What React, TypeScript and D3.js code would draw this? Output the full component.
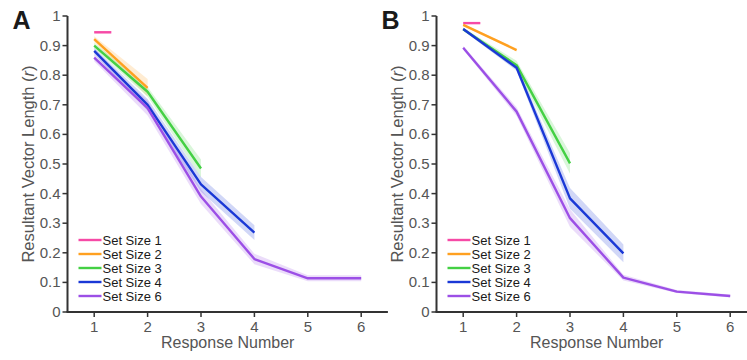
import React from "react";
import * as d3 from "d3";

const responseNumbers = [1, 2, 3, 4, 5, 6];
const yTicks = [0, 0.1, 0.2, 0.3, 0.4, 0.5, 0.6, 0.7, 0.8, 0.9, 1];
const setSizeLabels = ["Set Size 1", "Set Size 2", "Set Size 3", "Set Size 4", "Set Size 6"];
const setSizeColors = ["#f64aa6", "#ffa020", "#44d044", "#1a38d6", "#9c4fe6"];

// Panel A
const aSS1 = [0.945];
const aSS1Err = [0.004];
const aSS2 = [0.922, 0.757];
const aSS2Err = [0.01, 0.03];
const aSS3 = [0.9, 0.744, 0.485];
const aSS3Err = [0.01, 0.016, 0.03];
const aSS4 = [0.882, 0.7, 0.431, 0.268];
const aSS4Err = [0.01, 0.02, 0.025, 0.025];
const aSS6 = [0.859, 0.689, 0.39, 0.179, 0.114, 0.114];
const aSS6Err = [0.012, 0.025, 0.025, 0.018, 0.01, 0.01];

// Panel B
const bSS1 = [0.976];
const bSS1Err = [0.003];
const bSS2 = [0.97, 0.885];
const bSS2Err = [0.004, 0.005];
const bSS3 = [0.955, 0.834, 0.502];
const bSS3Err = [0.005, 0.015, 0.035];
const bSS4 = [0.956, 0.825, 0.384, 0.198];
const bSS4Err = [0.005, 0.01, 0.035, 0.03];
const bSS6 = [0.893, 0.677, 0.317, 0.116, 0.069, 0.054];
const bSS6Err = [0.006, 0.015, 0.03, 0.01, 0.005, 0.005];

const panels = [
  { label: "A", axisX: 67.5, series: [aSS1, aSS2, aSS3, aSS4, aSS6], errs: [aSS1Err, aSS2Err, aSS3Err, aSS4Err, aSS6Err] },
  { label: "B", axisX: 436.5, series: [bSS1, bSS2, bSS3, bSS4, bSS6], errs: [bSS1Err, bSS2Err, bSS3Err, bSS4Err, bSS6Err] },
];

const SINGLE_SEG = 0.32;
const FONT = "'Liberation Sans', Arial, Helvetica, sans-serif";

function Panel({ p }: { p: (typeof panels)[0] }) {
  const x = d3.scaleLinear().domain([0.5, 6.5]).range([p.axisX, p.axisX + 320.4]);
  const y = d3.scaleLinear().domain([0, 1]).range([312, 16]);
  const y0 = y(0);

  const lineGen = d3
    .line<[number, number]>()
    .x((d) => x(d[0]))
    .y((d) => y(d[1]));
  const areaGen = d3
    .area<[number, number, number]>()
    .x((d) => x(d[0]))
    .y0((d) => y(d[1] - d[2]))
    .y1((d) => y(d[1] + d[2]));

  return (
    <g>
      <text x={p.axisX - 55} y={29} fontSize={25} fontWeight="bold" fill="#1a1a1a" fontFamily={FONT}>
        {p.label}
      </text>
      {/* y axis title */}
      <text
        transform={`translate(${p.axisX - 34},${(y(0) + y(1)) / 2}) rotate(-90)`}
        textAnchor="middle"
        fontSize={16.5}
        fill="#555"
        fontFamily={FONT}
      >
        Resultant Vector Length (<tspan fontStyle="italic">r</tspan>)
      </text>
      {/* bands */}
      {p.series.map((vals, si) => {
        const errs = p.errs[si];
        let pts: [number, number, number][];
        if (vals.length === 1) {
          pts = [
            [responseNumbers[0], vals[0], errs[0]],
            [responseNumbers[0] + SINGLE_SEG, vals[0], errs[0]],
          ];
        } else {
          pts = vals.map((v, i) => [responseNumbers[i], v, errs[i]] as [number, number, number]);
        }
        return <path key={"b" + si} d={areaGen(pts) || ""} fill={setSizeColors[si]} opacity={0.2} />;
      })}
      {/* lines */}
      {p.series.map((vals, si) => {
        let pts: [number, number][];
        if (vals.length === 1) {
          pts = [
            [responseNumbers[0], vals[0]],
            [responseNumbers[0] + SINGLE_SEG, vals[0]],
          ];
        } else {
          pts = vals.map((v, i) => [responseNumbers[i], v] as [number, number]);
        }
        return (
          <path
            key={"l" + si}
            d={lineGen(pts) || ""}
            fill="none"
            stroke={setSizeColors[si]}
            strokeWidth={2.4}
            strokeLinejoin="round"
          />
        );
      })}
      {/* axes */}
      <line x1={p.axisX} x2={p.axisX} y1={y(1)} y2={y0} stroke="#333" strokeWidth={2} />
      <line x1={p.axisX - 1} x2={p.axisX + 320.4} y1={y0} y2={y0} stroke="#333" strokeWidth={2} />
      {yTicks.map((t) => (
        <g key={"yt" + t}>
          <line x1={p.axisX - 5} x2={p.axisX} y1={y(t)} y2={y(t)} stroke="#333" strokeWidth={1.5} />
          <text x={p.axisX - 7} y={y(t) + 5} textAnchor="end" fontSize={15} fill="#555" fontFamily={FONT}>
            {d3.format("")(t)}
          </text>
        </g>
      ))}
      {responseNumbers.map((t) => (
        <g key={"xt" + t}>
          <line x1={x(t)} x2={x(t)} y1={y0} y2={y0 + 5} stroke="#333" strokeWidth={1.5} />
          <text x={x(t)} y={y0 + 20} textAnchor="middle" fontSize={15} fill="#555" fontFamily={FONT}>
            {t}
          </text>
        </g>
      ))}
      <text x={x(3.5)} y={y0 + 36} textAnchor="middle" fontSize={16} fill="#555" fontFamily={FONT}>
        Response Number
      </text>
      {/* legend */}
      {setSizeLabels.map((lab, i) => (
        <g key={"lg" + i} transform={`translate(${p.axisX + 11},${240 + i * 14})`}>
          <line x1={0} x2={23} y1={0} y2={0} stroke={setSizeColors[i]} strokeWidth={2.4} />
          <text x={24} y={4.5} fontSize={13} fill="#1a1a1a" fontFamily={FONT}>
            {lab}
          </text>
        </g>
      ))}
    </g>
  );
}

export default function App() {
  return (
    <svg
      width={747}
      height={360}
      style={{ position: "absolute", left: 0, top: 0, background: "#fff" }}
    >
      <rect width={747} height={360} fill="#fff" />
      {panels.map((p) => (
        <Panel key={p.label} p={p} />
      ))}
    </svg>
  );
}
